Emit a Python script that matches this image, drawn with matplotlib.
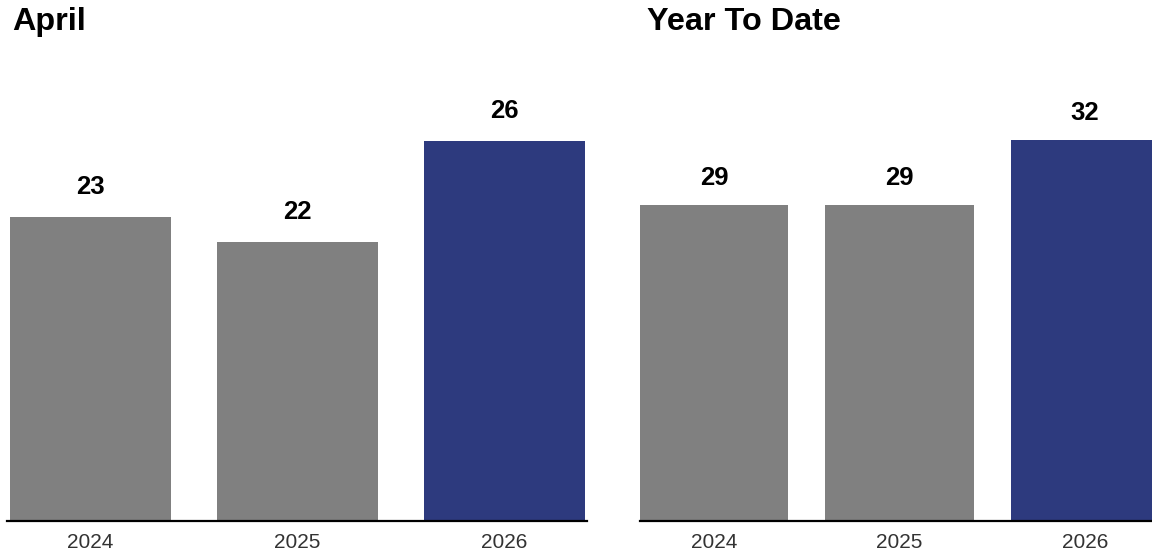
import matplotlib.pyplot as plt

plt.rcParams['font.family'] = ['Liberation Sans', 'DejaVu Sans']

years = ['2024', '2025', '2026']
april = [23, 22, 26]
ytd = [29, 29, 32]
colors = ['#808080', '#808080', '#2D3A7E']

W, H = 1152, 556
fig = plt.figure(figsize=(W / 100, H / 100), dpi=100)


def panel(x0, x1, vals, xlim, ylim, width, title, tx, off):
    ax = fig.add_axes([x0 / W, (H - 521) / H, (x1 - x0) / W, 461 / H])
    x = range(len(vals))
    bars = ax.bar(x, vals, width=width, color=colors)
    for b, v in zip(bars, vals):
        ax.annotate(str(v), (b.get_x() + b.get_width() / 2, v), xytext=(0, off),
                    textcoords='offset points', ha='center', va='bottom',
                    fontsize=18.5, fontweight='bold', color='black')
    ax.set_xlim(*xlim)
    ax.set_ylim(*ylim)
    ax.set_xticks(list(x))
    ax.set_xticklabels(years, fontsize=15, color='#333333')
    ax.tick_params(axis='x', length=0, pad=9)
    ax.set_yticks([])
    for s in ['top', 'right', 'left']:
        ax.spines[s].set_visible(False)
    ax.spines['bottom'].set_linewidth(1.6)
    ax.spines['bottom'].set_color('black')
    fig.text(tx / W, 1 - 7 / H, title, fontsize=23.3, fontweight='bold', va='top', ha='left')
    return ax


panel(7, 587, april, (-0.403, 2.399), (11, 29.2), 0.78, 'April', 12, 13)
panel(640, 1152, ytd, (-0.399, 2.361), (14.46, 35.7), 0.8, 'Year To Date', 647, 11)

fig.savefig('out.png', dpi=100)
